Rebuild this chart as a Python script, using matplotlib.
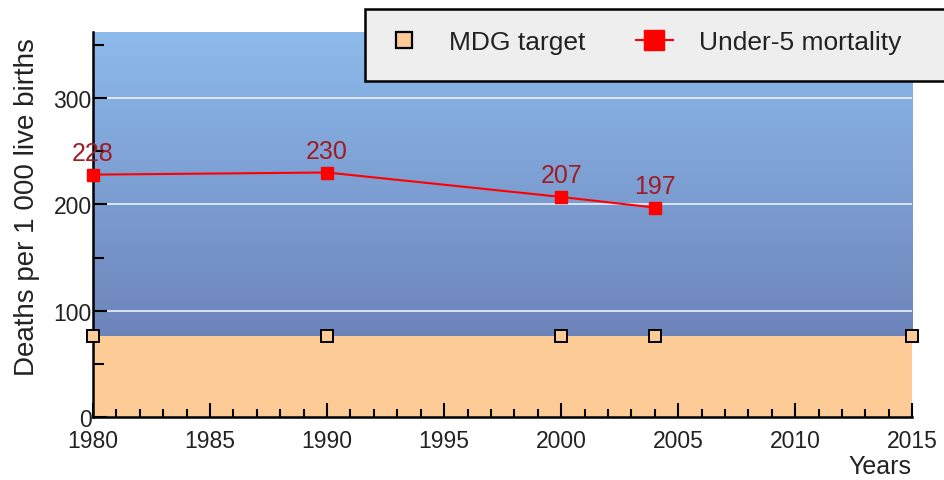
import numpy as np
import matplotlib
matplotlib.use("Agg")
from matplotlib import pyplot as plt
from matplotlib.lines import Line2D
from matplotlib.patches import Rectangle
from matplotlib.colors import LinearSegmentedColormap

plt.rcParams['font.family'] = ['Liberation Sans', 'DejaVu Sans']

# data
years = [1980, 1990, 2000, 2004]
mortality = [228, 230, 207, 197]
target_years = [1980, 1990, 2000, 2004, 2015]
mdg_target = 76

fig = plt.figure(figsize=(9.45, 4.81), dpi=100)
ax = fig.add_axes([0.0984, 0.131, 0.867, 0.80])

ymax = 362
ax.set_xlim(1980, 2015)
ax.set_ylim(0, ymax)

# background: orange below target, blue gradient above
ax.axhspan(0, mdg_target, color='#fdcc96', zorder=0, lw=0)
cmap = LinearSegmentedColormap.from_list('bg', ['#6d84ba', '#8dbbec'])
grad = np.linspace(0, 1, 256).reshape(-1, 1)
ax.imshow(grad, extent=[1980, 2015, mdg_target, ymax], origin='lower',
          aspect='auto', cmap=cmap, zorder=0)

for v in [100, 200, 300]:
    ax.axhline(v, color='#eef2fa', lw=1.2, zorder=1)

# MDG target squares
ax.plot(target_years, [mdg_target] * len(target_years), 's', ms=8,
        mfc='#fdcc96', mec='black', mew=1.4, ls='none', clip_on=False, zorder=4)

# mortality line
ax.plot(years, mortality, '-s', color='#ff0000', ms=8.5, lw=1.5, clip_on=False, zorder=5)
for x, y in zip(years, mortality):
    ax.annotate(str(y), (x, y), xytext=(0, 7), textcoords='offset points',
                ha='center', va='bottom', color='#a01c24', fontsize=18)

ax.set_xticks(range(1980, 2016, 5))
ax.set_xticks(range(1980, 2016), minor=True)
ax.set_yticks([0, 100, 200, 300])
ax.set_yticks([50, 150, 250, 350], minor=True)
ax.tick_params(axis='both', which='both', direction='in', width=1.5, colors='black',
               labelsize=16.5, labelcolor='#222222')
ax.tick_params(axis='x', which='major', length=10, pad=9)
ax.tick_params(axis='x', which='minor', length=6)
ax.tick_params(axis='y', which='major', length=10, pad=1)
ax.tick_params(axis='y', which='minor', length=8)
for s in ['top', 'right']:
    ax.spines[s].set_visible(False)
for s in ['left', 'bottom']:
    ax.spines[s].set_linewidth(1.8)

ax.set_ylabel('Deaths per 1 000 live births', fontsize=20, color='#222222')
ax.yaxis.set_label_coords(-0.065, 0.548)
fig.text(0.965, 0.005, 'Years', ha='right', va='bottom', fontsize=18, color='#222222')

# legend box, running off the right edge like the original
fig.patches.append(Rectangle((365 / 945, 1 - 82 / 481), 600 / 945, 72 / 481,
                             transform=fig.transFigure, facecolor='#eeeeee',
                             edgecolor='black', lw=1.8, zorder=10))
handles = [
    Line2D([], [], marker='s', ls='none', ms=12, mfc='#fdcc96', mec='black', mew=1.6),
    Line2D([], [], marker='s', color='#ff0000', ms=14, lw=1.5),
]
leg = fig.legend(handles, ['MDG target', 'Under-5 mortality'], ncol=2,
                 loc='center left', bbox_to_anchor=(386 / 945, 1 - 43 / 481),
                 fontsize=19, frameon=False, borderpad=0,
                 handlelength=1.4, handletextpad=1.0, columnspacing=1.9,
                 borderaxespad=0)
leg.set_zorder(11)
for t in leg.get_texts():
    t.set_color('#222222')

fig.savefig('out.png', dpi=100)
